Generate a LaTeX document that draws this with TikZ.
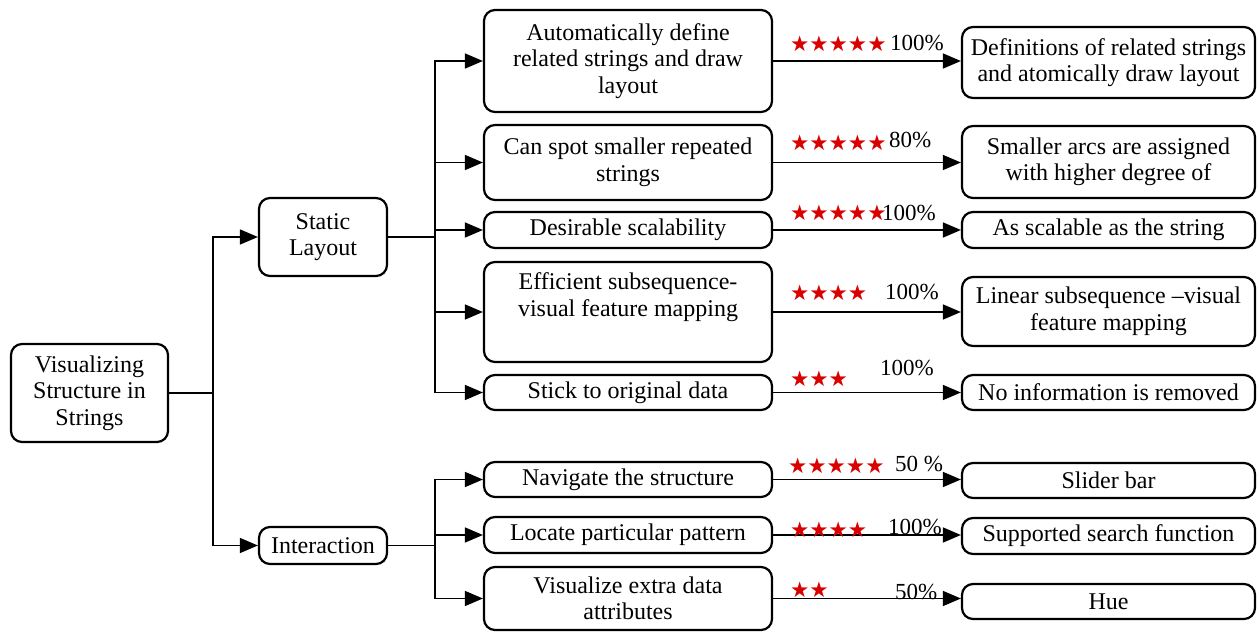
\documentclass[tikz,border=0pt]{standalone}
\usepackage{fontspec}
\setmainfont{Liberation Serif}
\newfontfamily\starfont{DejaVu Sans}
\usetikzlibrary{arrows.meta}
\begin{document}
\begin{tikzpicture}[x=1pt,y=-1pt,
  box/.style={draw, line width=2.2pt, rounded corners=11pt, align=center,
    font=\fontsize{24}{26.5}\selectfont, inner sep=0pt},
  conn/.style={line width=1.5pt},
  arr/.style={conn, -{Triangle[length=18pt,width=15pt]}},
  stars/.style={text=red!85!black, font=\starfont\fontsize{21.5}{22}\selectfont, anchor=west, inner sep=0pt},
  pct/.style={font=\fontsize{23}{24}\selectfont, anchor=west, inner sep=0pt},
  midbox/.style={box, minimum width=288pt},
  rbox/.style={box, minimum width=293pt}]
\useasboundingbox (0,0) rectangle (1259,632);

% level 0 and 1
\node[box, minimum width=157pt, minimum height=98pt] (root) at (89.5,393) {Visualizing\\Structure in\\Strings};
\node[box, minimum width=128pt, minimum height=78pt] (static) at (323,237) {Static\\Layout};
\node[box, minimum width=128pt, minimum height=37pt] (inter) at (323,545.5) {Interaction};

% middle boxes
\node[midbox, minimum height=102pt] (m1) at (628,61) {Automatically define\\related strings and draw\\layout};
\node[midbox, minimum height=75pt] (m2) at (628,162.5) {Can spot smaller repeated\\strings};
\node[midbox, minimum height=36pt] (m3) at (628,230) {Desirable scalability};
\node[midbox, minimum height=100pt] (m4) at (628,312) {Efficient subsequence-\\visual feature mapping\\\strut};
\node[midbox, minimum height=35pt] (m5) at (628,392.5) {Stick to original data};
\node[midbox, minimum height=35pt] (m6) at (628,479.5) {Navigate the structure};
\node[midbox, minimum height=36pt] (m7) at (628,535) {Locate particular pattern};
\node[midbox, minimum height=63pt] (m8) at (628,598.5) {Visualize extra data\\attributes};

% right boxes
\node[rbox, minimum height=71pt] (r1) at (1108.5,62.5) {Definitions of related strings\\and atomically draw layout};
\node[rbox, minimum height=72pt] (r2) at (1108.5,162) {Smaller arcs are assigned\\with higher degree of};
\node[rbox, minimum height=36pt] (r3) at (1108.5,230) {As scalable as the string};
\node[rbox, minimum height=69pt] (r4) at (1108.5,311.5) {Linear subsequence --visual\\feature mapping};
\node[rbox, minimum height=35pt] (r5) at (1108.5,392.5) {No information is removed};
\node[rbox, minimum height=35pt] (r6) at (1108.5,480.5) {Slider bar};
\node[rbox, minimum height=36pt] (r7) at (1108.5,536) {Supported search function};
\node[rbox, minimum height=35pt] (r8) at (1108.5,601.5) {Hue};

% trunk from root
\coordinate (t0) at (213,393);
\draw[conn] (root.east) -- (t0);
\draw[arr] (t0) |- (static.west);
\draw[arr] (t0) |- (inter.west);

% trunk from static
\coordinate (t1) at (435,237);
\draw[conn] (static.east) -- (t1);
\foreach \m in {m1,m2,m3,m4,m5}{
  \draw[arr] (t1) |- (\m.west);
}
% trunk from interaction
\coordinate (t2) at (435,545.5);
\draw[conn] (inter.east) -- (t2);
\foreach \m in {m6,m7,m8}{
  \draw[arr] (t2) |- (\m.west);
}

% right arrows
\foreach \i in {1,...,8}{
  \draw[arr] (m\i.east) -- (m\i.east -| r\i.west);
}

% stars and percentages
\node[stars] (s1) at (790,44) {★★★★★};
\node[pct] (p1) at (890,43) {100\%};
\node[stars] (s2) at (790,143) {★★★★★};
\node[pct] (p2) at (889,140) {80\%};
\node[stars] (s3) at (790,213) {★★★★★};
\node[pct] (p3) at (882,213) {100\%};
\node[stars] (s4) at (790,293) {★★★★};
\node[pct] (p4) at (885,292) {100\%};
\node[stars] (s5) at (790,379) {★★★};
\node[pct] (p5) at (880,368) {100\%};
\node[stars] (s6) at (788,466) {★★★★★};
\node[pct] (p6) at (895,464) {50 \%};
\node[stars] (s7) at (790,530) {★★★★};
\node[pct] (p7) at (888,527) {100\%};
\node[stars] (s8) at (790,590) {★★};
\node[pct] (p8) at (895,592) {50\%};
\end{tikzpicture}
\end{document}
